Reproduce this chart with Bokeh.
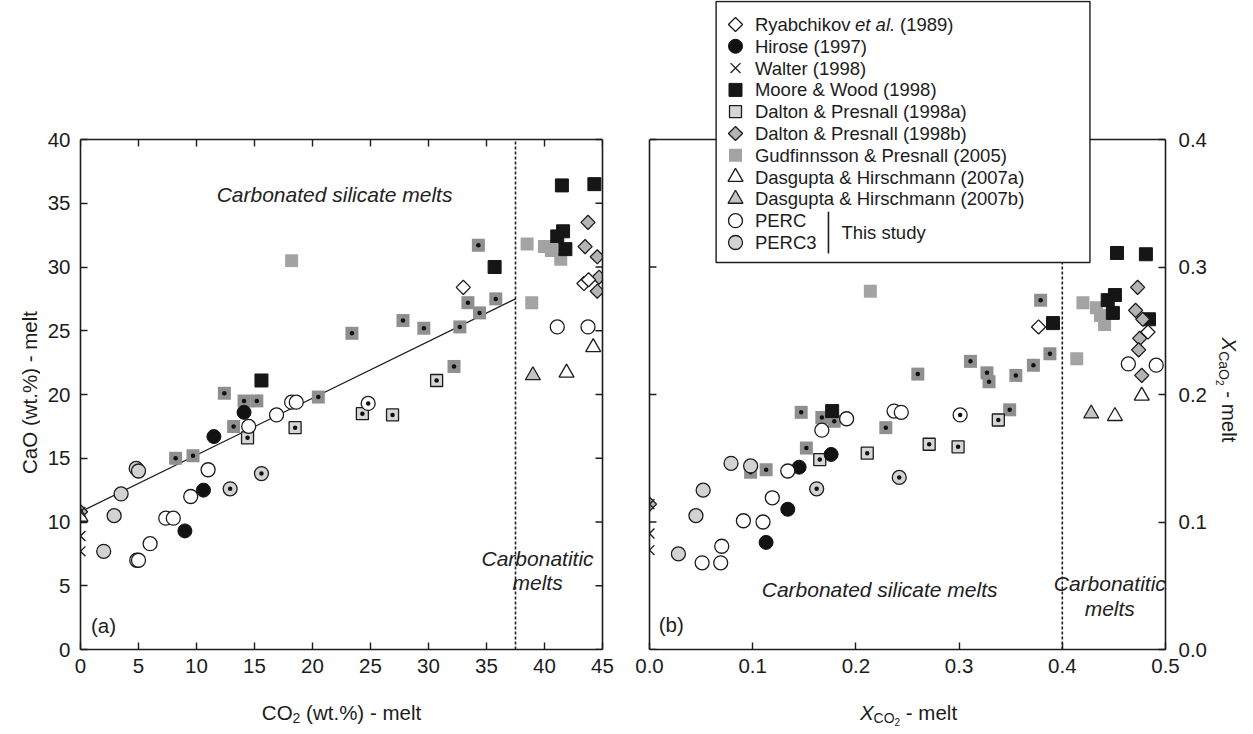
import math
from bokeh.plotting import figure
from bokeh.layouts import row, column
from bokeh.models import (ColumnDataSource, Label, LinearAxis, FixedTicker,
                          PrintfTickFormatter, Range1d)
from bokeh.embed import file_html
from bokeh.resources import INLINE

# ---------------- panel (a): CO2 (wt.%) vs CaO (wt.%) in the melt ----------------
co2_ticks = [0, 5, 10, 15, 20, 25, 30, 35, 40, 45]
cao_ticks = [0, 5, 10, 15, 20, 25, 30, 35, 40]

ryab_a_x = [33.0, 43.4, 43.8]
ryab_a_y = [28.4, 28.7, 29.0]
hirose_a_x = [14.1, 11.5, 10.6, 9.0]
hirose_a_y = [18.6, 16.7, 12.5, 9.3]
walter_a_x = [0.0, 0.0, 0.0]
walter_a_y = [10.8, 8.9, 7.7]
moore_a_x = [15.6, 35.7, 41.5, 44.3, 41.1, 41.6, 41.8]
moore_a_y = [21.1, 30.0, 36.4, 36.5, 32.4, 32.8, 31.4]
daltonA_a_x = [14.4, 18.5, 24.3, 26.9, 30.7]
daltonA_a_y = [16.6, 17.4, 18.5, 18.4, 21.1]
daltonB_a_x = [0.0, 43.75, 43.5, 44.55, 44.7, 44.55]
daltonB_a_y = [10.8, 33.5, 31.6, 30.8, 29.2, 28.1]
gudf_a_x = [18.2, 38.5, 38.9, 40.0, 40.6, 41.4]
gudf_a_y = [30.5, 31.8, 27.2, 31.6, 31.3, 30.6]
gudf_dot_a_x = [34.3, 33.4, 35.8, 34.4, 32.7, 27.8, 29.6, 23.4, 32.2, 20.5, 12.4, 14.1, 15.2, 13.2, 8.2, 9.7]
gudf_dot_a_y = [31.7, 27.2, 27.5, 26.4, 25.3, 25.8, 25.2, 24.8, 22.2, 19.8, 20.1, 19.5, 19.5, 17.5, 15.0, 15.2]
dasgA_a_x = [0.0, 44.2, 41.9]
dasgA_a_y = [10.4, 23.7, 21.7]
dasgB_a_x = [39.0]
dasgB_a_y = [21.5]
perc_a_x = [18.2, 18.6, 16.9, 14.5, 11.0, 9.5, 7.35, 8.0, 6.0, 4.85, 5.0, 41.1, 43.75]
perc_a_y = [19.4, 19.4, 18.4, 17.5, 14.1, 12.0, 10.3, 10.3, 8.3, 7.0, 7.0, 25.3, 25.3]
perc_dot_a_x = [24.8]
perc_dot_a_y = [19.3]
perc3_a_x = [4.8, 5.0, 3.5, 2.9, 2.0]
perc3_a_y = [14.2, 14.0, 12.2, 10.5, 7.7]
perc3_dot_a_x = [12.9, 15.6]
perc3_dot_a_y = [12.6, 13.8]
fit_a_x = [0.0, 37.5]
fit_a_y = [10.8, 27.5]
boundary_a = 37.5

# ---------------- panel (b): X_CO2 vs X_CaO in the melt ----------------
xco2_ticks = [0.0, 0.1, 0.2, 0.3, 0.4, 0.5]
xcao_ticks = [0.0, 0.1, 0.2, 0.3, 0.4]

ryab_b_x = [0.377, 0.483]
ryab_b_y = [0.253, 0.249]
hirose_b_x = [0.176, 0.145, 0.134, 0.113]
hirose_b_y = [0.153, 0.143, 0.110, 0.084]
walter_b_x = [0.0, 0.0, 0.0]
walter_b_y = [0.114, 0.091, 0.078]
moore_b_x = [0.177, 0.391, 0.453, 0.481, 0.451, 0.444, 0.449, 0.484]
moore_b_y = [0.187, 0.256, 0.311, 0.310, 0.278, 0.274, 0.264, 0.259]
daltonA_b_x = [0.165, 0.211, 0.271, 0.299, 0.338]
daltonA_b_y = [0.149, 0.154, 0.161, 0.159, 0.180]
daltonB_b_x = [0.0, 0.473, 0.471, 0.478, 0.475, 0.474, 0.477]
daltonB_b_y = [0.114, 0.284, 0.266, 0.259, 0.244, 0.235, 0.215]
gudf_b_x = [0.214, 0.420, 0.433, 0.437, 0.441, 0.414]
gudf_b_y = [0.281, 0.272, 0.268, 0.262, 0.255, 0.228]
gudf_dot_b_x = [0.379, 0.388, 0.372, 0.355, 0.311, 0.327, 0.329, 0.260, 0.349, 0.229,
                0.147, 0.167, 0.179, 0.152, 0.113, 0.098]
gudf_dot_b_y = [0.274, 0.232, 0.223, 0.215, 0.226, 0.217, 0.210, 0.216, 0.188, 0.174,
                0.186, 0.182, 0.179, 0.158, 0.141, 0.139]
dasgA_b_x = [0.477, 0.451]
dasgA_b_y = [0.199, 0.183]
dasgB_b_x = [0.428]
dasgB_b_y = [0.185]
perc_b_x = [0.237, 0.244, 0.191, 0.167, 0.134, 0.119, 0.091, 0.110, 0.070, 0.051, 0.069, 0.464, 0.491]
perc_b_y = [0.187, 0.186, 0.181, 0.172, 0.140, 0.119, 0.101, 0.100, 0.081, 0.068, 0.068, 0.224, 0.223]
perc_dot_b_x = [0.301]
perc_dot_b_y = [0.184]
perc3_b_x = [0.079, 0.098, 0.052, 0.045, 0.028]
perc3_b_y = [0.146, 0.144, 0.125, 0.105, 0.075]
perc3_dot_b_x = [0.162, 0.242]
perc3_dot_b_y = [0.126, 0.135]
boundary_b = 0.4

legend_keys = ["ryab", "hirose", "walter", "moore", "daltonA", "daltonB", "gudf",
               "dasgA", "dasgB", "perc", "perc3"]
legend_labels = ["Ryabchikov et al. (1989)", "Hirose (1997)", "Walter (1998)",
                 "Moore & Wood (1998)", "Dalton & Presnall (1998a)",
                 "Dalton & Presnall (1998b)", "Gudfinnsson & Presnall (2005)",
                 "Dasgupta & Hirschmann (2007a)", "Dasgupta & Hirschmann (2007b)",
                 "PERC", "PERC3"]

# ---------------- styling / layout constants ----------------
FONT = "Liberation Sans"
INK = "#1c1c1c"
TICK_PX = 20.5
NOTE_PX = 21
LEG_PX = 18.5
TICK_LEN = 7

FIG_H = 690            # height of the row holding both panels
BOTTOM = 41            # room under the boxes for tick labels
FRAME_H = FIG_H - BOTTOM
BOX_TOP = 139          # pixel row of the top edge of both boxes
BOX_H = 510            # box height in pixels
LT_W, PA_L, FRAME_A_W, PA_R = 40, 40, 522, 24
PB_L, FRAME_B_W, PB_R = 23, 519, 41

STYLE = {
    "ryab": dict(marker="square", size=10, angle=math.pi / 4, fill_color="white", line_color=INK, line_width=1.3),
    "hirose": dict(marker="circle", size=14, fill_color="#121212", line_color="#121212", line_width=1),
    "walter": dict(marker="x", size=14, line_color=INK, line_width=1.3),
    "moore": dict(marker="square", size=13, fill_color="#161616", line_color="#161616", line_width=1),
    "daltonA": dict(marker="square", size=12, fill_color="#d6d6d6", line_color=INK, line_width=1.3),
    "daltonB": dict(marker="square", size=10, angle=math.pi / 4, fill_color="#b4b4b4", line_color=INK, line_width=1.3),
    "gudf": dict(marker="square", size=13, fill_color="#a3a3a3", line_color=None),
    "gudf_dot": dict(marker="square", size=13, fill_color="#8f8f8f", line_color=None),
    "dasgA": dict(marker="triangle", size=15, fill_color="white", line_color=INK, line_width=1.3),
    "dasgB": dict(marker="triangle", size=15, fill_color="#c4c4c4", line_color=INK, line_width=1.3),
    "perc": dict(marker="circle", size=14, fill_color="white", line_color=INK, line_width=1.3),
    "perc3": dict(marker="circle", size=14, fill_color="#d2d2d2", line_color=INK, line_width=1.3),
}

ARIAL_W = {' ': 278, '(': 333, ')': 333, '.': 278, '%': 889, '-': 333, 'C': 722, 'O': 778,
           'X': 667, 'R': 722, 'a': 556, 'b': 556, 'c': 500, 'e': 556, 'h': 556, 'i': 222,
           'k': 500, 'l': 222, 'm': 833, 'o': 556, 't': 278, 'v': 500, 'w': 722, 'y': 500}


def text_width(s, size):
    return sum(ARIAL_W.get(ch, 556) for ch in s) * size / 1000.0


def compose(p, pieces, x, y, angle=0.0, baseline="alphabetic", **rng):
    """Write a run of text pieces (text, size, style, shift below baseline) in pixel
    coordinates whose y axis points down."""
    c, s = math.cos(angle), math.sin(angle)
    for text, size, style, shift in pieces:
        body = text.lstrip(" ")
        gap = text_width(text[:len(text) - len(body)], size)
        x += c * gap
        y -= s * gap
        p.add_layout(Label(x=x + s * shift, y=y + c * shift, text=body, angle=angle,
                           text_font=FONT, text_font_size=f"{size}px", text_font_style=style,
                           text_color=INK, text_align="left", text_baseline=baseline, **rng))
        adv = text_width(body, size)
        x += c * adv
        y -= s * adv


def style_axis(ax, ticks, fmt=None, standoff=9, bounds=None):
    ax.ticker = FixedTicker(ticks=ticks)
    ax.axis_line_color = INK
    ax.axis_line_width = 1.6
    ax.major_tick_in = TICK_LEN
    ax.major_tick_out = 0
    ax.major_tick_line_color = INK
    ax.major_tick_line_width = 1.4
    ax.minor_tick_line_color = None
    ax.major_label_text_font = FONT
    ax.major_label_text_font_size = f"{TICK_PX}px"
    ax.major_label_text_color = INK
    ax.major_label_standoff = standoff
    if fmt:
        ax.formatter = PrintfTickFormatter(format=fmt)
    if bounds:
        ax.bounds = bounds


def bare_axis(bounds):
    return LinearAxis(ticker=FixedTicker(ticks=[]), axis_line_color=INK, axis_line_width=1.6,
                      major_tick_line_color=None, minor_tick_line_color=None, bounds=bounds)


def scatter(p, xs, ys, key, **kw):
    src = ColumnDataSource(dict(x=xs, y=ys))
    return p.scatter("x", "y", source=src, **STYLE[key], **kw)


def dots(p, xs, ys):
    src = ColumnDataSource(dict(x=xs, y=ys))
    p.scatter("x", "y", source=src, marker="circle", size=4.5, fill_color="#101010", line_color=None)


def note(p, x, y, text, size=NOTE_PX, style="italic", align="center"):
    p.add_layout(Label(x=x, y=y, text=text, text_font=FONT, text_font_size=f"{size}px",
                       text_font_style=style, text_color="#222222", text_align=align,
                       text_baseline="middle"))


def clean(p):
    p.xgrid.grid_line_color = None
    p.ygrid.grid_line_color = None
    p.outline_line_color = None
    p.background_fill_color = "white"
    p.border_fill_color = "white"


def text_figure(width, height, bottom=0):
    p = figure(width=width, height=height, x_range=Range1d(0, width),
               y_range=Range1d(height - bottom, 0), output_backend="svg", toolbar_location=None,
               x_axis_type=None, y_axis_type=None, min_border_left=0, min_border_right=0,
               min_border_top=0, min_border_bottom=bottom)
    clean(p)
    return p


def panel(width, left, right, frame_w, xticks, yticks, y_loc):
    """A box whose frame reaches the top of the page; the data box sits BOX_TOP pixels down."""
    ytop = yticks[0] + (yticks[-1] - yticks[0]) * FRAME_H / BOX_H
    p = figure(width=width, height=FIG_H, x_range=Range1d(xticks[0], xticks[-1]),
               y_range=Range1d(yticks[0], ytop), output_backend="svg", toolbar_location=None,
               y_axis_location=y_loc, min_border_left=left, min_border_right=right,
               min_border_top=0, min_border_bottom=BOTTOM)
    clean(p)
    p.extra_x_ranges = {"px": Range1d(0, frame_w)}
    p.extra_y_ranges = {"px": Range1d(FRAME_H, 0)}
    # top edge of the box
    p.line([xticks[0], xticks[-1]], [yticks[-1], yticks[-1]], line_color=INK, line_width=1.6)
    return p


def draw_series(p, d):
    scatter(p, *d["gudf"], "gudf")
    scatter(p, *d["gudf_dot"], "gudf_dot")
    dots(p, *d["gudf_dot"])
    scatter(p, *d["daltonA"], "daltonA")
    dots(p, *d["daltonA"])
    scatter(p, *d["moore"], "moore")
    scatter(p, *d["daltonB"], "daltonB")
    scatter(p, *d["ryab"], "ryab")
    scatter(p, *d["hirose"], "hirose")
    scatter(p, *d["dasgA"], "dasgA")
    scatter(p, *d["dasgB"], "dasgB")
    scatter(p, *d["perc"], "perc")
    scatter(p, *d["perc_dot"], "perc")
    scatter(p, *d["perc3"], "perc3")
    scatter(p, *d["perc3_dot"], "perc3")
    dots(p, d["perc_dot"][0] + d["perc3_dot"][0], d["perc_dot"][1] + d["perc3_dot"][1])
    scatter(p, *d["walter"], "walter")


# ---------------- panel (a) ----------------
pa = panel(PA_L + FRAME_A_W + PA_R, PA_L, PA_R, FRAME_A_W, co2_ticks, cao_ticks, "left")
style_axis(pa.xaxis[0], co2_ticks, standoff=9)
style_axis(pa.yaxis[0], cao_ticks, standoff=10, bounds=(cao_ticks[0], cao_ticks[-1]))
pa.add_layout(bare_axis((cao_ticks[0], cao_ticks[-1])), "right")
# inward ticks along the top and right edges
n = len(co2_ticks)
pa.segment(x0=co2_ticks, y0=[BOX_TOP] * n, x1=co2_ticks, y1=[BOX_TOP + TICK_LEN] * n,
           y_range_name="px", line_color=INK, line_width=1.4)
m = len(cao_ticks)
pa.segment(x0=[FRAME_A_W - TICK_LEN] * m, y0=cao_ticks, x1=[FRAME_A_W] * m, y1=cao_ticks,
           x_range_name="px", line_color=INK, line_width=1.4)

pa.segment(x0=[boundary_a], y0=[cao_ticks[0]], x1=[boundary_a], y1=[cao_ticks[-1]],
           line_color=INK, line_width=1.6, line_dash="3 2")
pa.line(fit_a_x, fit_a_y, line_color=INK, line_width=1.3)

draw_series(pa, {
    "gudf": (gudf_a_x, gudf_a_y), "gudf_dot": (gudf_dot_a_x, gudf_dot_a_y),
    "daltonA": (daltonA_a_x, daltonA_a_y), "moore": (moore_a_x, moore_a_y),
    "daltonB": (daltonB_a_x, daltonB_a_y), "ryab": (ryab_a_x, ryab_a_y),
    "hirose": (hirose_a_x, hirose_a_y), "dasgA": (dasgA_a_x, dasgA_a_y),
    "dasgB": (dasgB_a_x, dasgB_a_y), "perc": (perc_a_x, perc_a_y),
    "perc_dot": (perc_dot_a_x, perc_dot_a_y), "perc3": (perc3_a_x, perc3_a_y),
    "perc3_dot": (perc3_dot_a_x, perc3_dot_a_y), "walter": (walter_a_x, walter_a_y)})

note(pa, 21.9, 35.7, "Carbonated silicate melts")
note(pa, 39.4, 7.1, "Carbonatitic")
note(pa, 39.4, 5.25, "melts")
note(pa, 0.9, 1.9, "(a)", size=TICK_PX, style="normal", align="left")

# ---------------- panel (b) ----------------
pb = panel(PB_L + FRAME_B_W + PB_R, PB_L, PB_R, FRAME_B_W, xco2_ticks, xcao_ticks, "right")
style_axis(pb.xaxis[0], xco2_ticks, fmt="%.1f", standoff=9)
style_axis(pb.yaxis[0], xcao_ticks, fmt="%.1f", standoff=13, bounds=(xcao_ticks[0], xcao_ticks[-1]))
pb.add_layout(bare_axis((xcao_ticks[0], xcao_ticks[-1])), "left")
k = len(xcao_ticks)
pb.segment(x0=[0] * k, y0=xcao_ticks, x1=[TICK_LEN] * k, y1=xcao_ticks,
           x_range_name="px", line_color=INK, line_width=1.4)
pb.segment(x0=[boundary_b], y0=[xcao_ticks[0]], x1=[boundary_b], y1=[xcao_ticks[-1]],
           line_color=INK, line_width=1.6, line_dash="3 2")

draw_series(pb, {
    "gudf": (gudf_b_x, gudf_b_y), "gudf_dot": (gudf_dot_b_x, gudf_dot_b_y),
    "daltonA": (daltonA_b_x, daltonA_b_y), "moore": (moore_b_x, moore_b_y),
    "daltonB": (daltonB_b_x, daltonB_b_y), "ryab": (ryab_b_x, ryab_b_y),
    "hirose": (hirose_b_x, hirose_b_y), "dasgA": (dasgA_b_x, dasgA_b_y),
    "dasgB": (dasgB_b_x, dasgB_b_y), "perc": (perc_b_x, perc_b_y),
    "perc_dot": (perc_dot_b_x, perc_dot_b_y), "perc3": (perc3_b_x, perc3_b_y),
    "perc3_dot": (perc3_dot_b_x, perc3_dot_b_y), "walter": (walter_b_x, walter_b_y)})

note(pb, 0.223, 0.047, "Carbonated silicate melts")
note(pb, 0.446, 0.052, "Carbonatitic")
note(pb, 0.446, 0.0325, "melts")
note(pb, 0.009, 0.0195, "(b)", size=TICK_PX, style="normal", align="left")

# legend box over the top of panel (b), in pixels of that panel's frame
LEG_L, LEG_T, LEG_R, LEG_B = 67, 1, 443, 262
ROW0, PITCH = 24, 21.8
KEY_X, TEXT_X = 86.5, 106
PX = dict(x_range_name="px", y_range_name="px")
pb.quad(left=[LEG_L], right=[LEG_R], top=[LEG_T], bottom=[LEG_B], fill_color="white",
        line_color=INK, line_width=1.4, **PX)
for i, (key, lab) in enumerate(zip(legend_keys, legend_labels)):
    ky = ROW0 + PITCH * i
    scatter(pb, [KEY_X], [ky], key, **PX)
    if key == "ryab":
        name, rest = lab.split(" et al. ")
        compose(pb, [(name, LEG_PX, "normal", 0), (" et al.", LEG_PX, "italic", 0),
                     (" " + rest, LEG_PX, "normal", 0)], TEXT_X, ky, baseline="middle", **PX)
    else:
        compose(pb, [(lab, LEG_PX, "normal", 0)], TEXT_X, ky, baseline="middle", **PX)
# bracket grouping the two compositions of this study
y_perc, y_perc3 = ROW0 + PITCH * 9, ROW0 + PITCH * 10
pb.segment(x0=[180], y0=[y_perc - 9], x1=[180], y1=[y_perc3 + 11], line_color=INK,
           line_width=1.6, **PX)
compose(pb, [("This study", LEG_PX, "normal", 0)], 193, (y_perc + y_perc3) / 2 + 1,
        baseline="middle", **PX)

# ---------------- axis titles ----------------
lt = text_figure(LT_W, FIG_H, BOTTOM)
t_ay = [("CaO (wt.%) - melt", TICK_PX, "normal", 0)]
compose(lt, t_ay, 29, BOX_TOP + BOX_H / 2 + text_width(t_ay[0][0], TICK_PX) / 2 - 2,
        angle=math.pi / 2)

rt_w = 1253 - LT_W - (PA_L + FRAME_A_W + PA_R) - (PB_L + FRAME_B_W + PB_R)
rt = text_figure(rt_w, FIG_H, BOTTOM)
t_by = [("X", TICK_PX, "italic", 0), ("CaO", 14, "normal", 6), ("2", 10, "normal", 10),
        (" - melt", TICK_PX, "normal", 0)]
compose(rt, t_by, 20, 337, angle=-math.pi / 2)

bt = text_figure(1253, 734 - FIG_H)
t_a = [("CO", TICK_PX, "normal", 0), ("2", 14, "normal", 5.5), (" (wt.%) - melt", TICK_PX, "normal", 0)]
w_a = sum(text_width(t, s) for t, s, _, _ in t_a)
compose(bt, t_a, 341 - w_a / 2, 22)
t_b = [("X", TICK_PX, "italic", 0), ("CO", 14, "normal", 5.5), ("2", 10, "normal", 9.5),
       (" - melt", TICK_PX, "normal", 0)]
w_b = sum(text_width(t, s) for t, s, _, _ in t_b)
compose(bt, t_b, 908 - w_b / 2, 22)

layout = column(row(lt, pa, pb, rt), bt)
open("out.html", "w").write(file_html(layout, INLINE))
